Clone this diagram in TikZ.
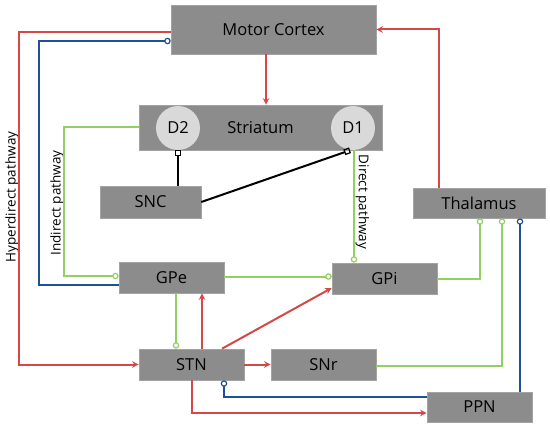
\documentclass[tikz,border=0pt]{standalone}
\usepackage{fontspec}
\setmainfont{Open Sans}
\usetikzlibrary{arrows.meta,calc}
\definecolor{boxgray}{RGB}{140,140,140}
\definecolor{dgray}{RGB}{217,217,217}
\definecolor{redl}{RGB}{214,72,72}
\definecolor{greenl}{RGB}{146,208,100}
\definecolor{bluel}{RGB}{30,80,150}
\tikzset{
  box/.style={fill=boxgray, draw=boxgray!80!white, line width=0.6pt, inner sep=0pt, font=\fontsize{16.5}{19}\selectfont},
  dcirc/.style={circle, fill=dgray, minimum size=44pt, inner sep=0pt, font=\fontsize{16.5}{19}\selectfont},
  rl/.style={draw=redl, line width=2pt, -{Stealth[length=6.5pt,width=6.5pt]}},
  gl/.style={draw=greenl, line width=2pt},
  bl/.style={draw=bluel, line width=2pt},
  kl/.style={draw=black, line width=2pt},
  oc/.style={-{Circle[open,length=6.5pt,width=6.5pt,line width=1.2pt]}},
  os/.style={-{Square[open,length=6pt,width=6pt,line width=1.2pt]}},
  lab/.style={font=\fontsize{13.5}{16}\selectfont, inner sep=0pt}
}
\begin{document}
\begin{tikzpicture}[x=1pt,y=-1pt]
\useasboundingbox[fill=white] (0,0) rectangle (550,428);
% boxes
\node[box, minimum width=205pt, minimum height=49pt] (mc) at (273.5,29.5) {Motor Cortex};
\node[box, minimum width=243pt, minimum height=45pt] (st) at (260.5,127.5) {Striatum};
\node[dcirc] (d2) at (178,128) {D2};
\node[dcirc] (d1) at (353,128) {D1};
\node[box, minimum width=101pt, minimum height=32pt] (snc) at (150.5,202) {SNC};
\node[box, minimum width=132pt, minimum height=30pt] (th) at (479,203) {Thalamus};
\node[box, minimum width=105pt, minimum height=31pt] (gpe) at (171.5,277.5) {GPe};
\node[box, minimum width=105pt, minimum height=31pt] (gpi) at (384.5,278.5) {GPi};
\node[box, minimum width=105pt, minimum height=31pt] (stn) at (191.5,364.5) {STN};
\node[box, minimum width=105pt, minimum height=31pt] (snr) at (323.5,364.5) {SNr};
\node[box, minimum width=105pt, minimum height=30pt] (ppn) at (479.5,407) {PPN};
% labels
\node[lab, rotate=90] (lhyp) at (12,197) {Hyperdirect pathway};
\node[lab, rotate=90] (lind) at (57,203) {Indirect pathway};
\node[lab, rotate=-90] (ldir) at (362.5,202) {Direct pathway};
% red
\draw[rl] ([yshift=-2.5pt]mc.west) -- ++(-152,0) |- (stn.west);
\draw[rl] ([xshift=-7.5pt]mc.south) -- ([xshift=-7.5pt]mc.south |- st.north);
\draw[rl] ([xshift=-40pt]th.north) |- (mc.east);
\draw[rl] ([xshift=10.5pt]stn.north) -- ([xshift=10.5pt]stn.north |- gpe.south);
\draw[rl] ([xshift=30.5pt]stn.north) -- ([yshift=-9.5pt]gpi.west);
\draw[rl] (stn.east) -- (snr.west);
\draw[rl] (stn.south) |- ([yshift=-6pt]ppn.west);
% blue
\draw[bl, oc] ([yshift=-7.5pt]gpe.west) -- ++(-80,0) |- ([yshift=-11.5pt]mc.west);
\draw[bl, oc] ([yshift=10pt]ppn.west) -| ([xshift=32.5pt]stn.south);
\draw[bl, oc] ([xshift=40.5pt]ppn.north) -- ([xshift=40.5pt]ppn.north |- th.south);
% green
\draw[gl, oc] (st.west) -- ++(-75,0) |- ([yshift=1.5pt]gpe.west);
\draw[gl, oc] ([xshift=-30.5pt]gpi.north |- st.south) -- ([xshift=-30.5pt]gpi.north);
\draw[gl, oc] ([yshift=1pt]gpe.east) -- ([yshift=1pt]gpe.east -| gpi.west);
\draw[gl, oc] ([xshift=4.5pt]gpe.south) -- ([xshift=4.5pt]gpe.south |- stn.north);
\draw[gl, oc] (gpi.east) -| ([xshift=1pt]th.south);
\draw[gl, oc] ([yshift=-1pt]snr.east) -| ([xshift=23pt]th.south);
% black
\draw[kl, os] (d2.center |- snc.north) -- (d2.center |- st.south);
\draw[kl, os] (snc.east) -- ([xshift=-3pt]d1.center |- st.south);
\end{tikzpicture}
\end{document}
